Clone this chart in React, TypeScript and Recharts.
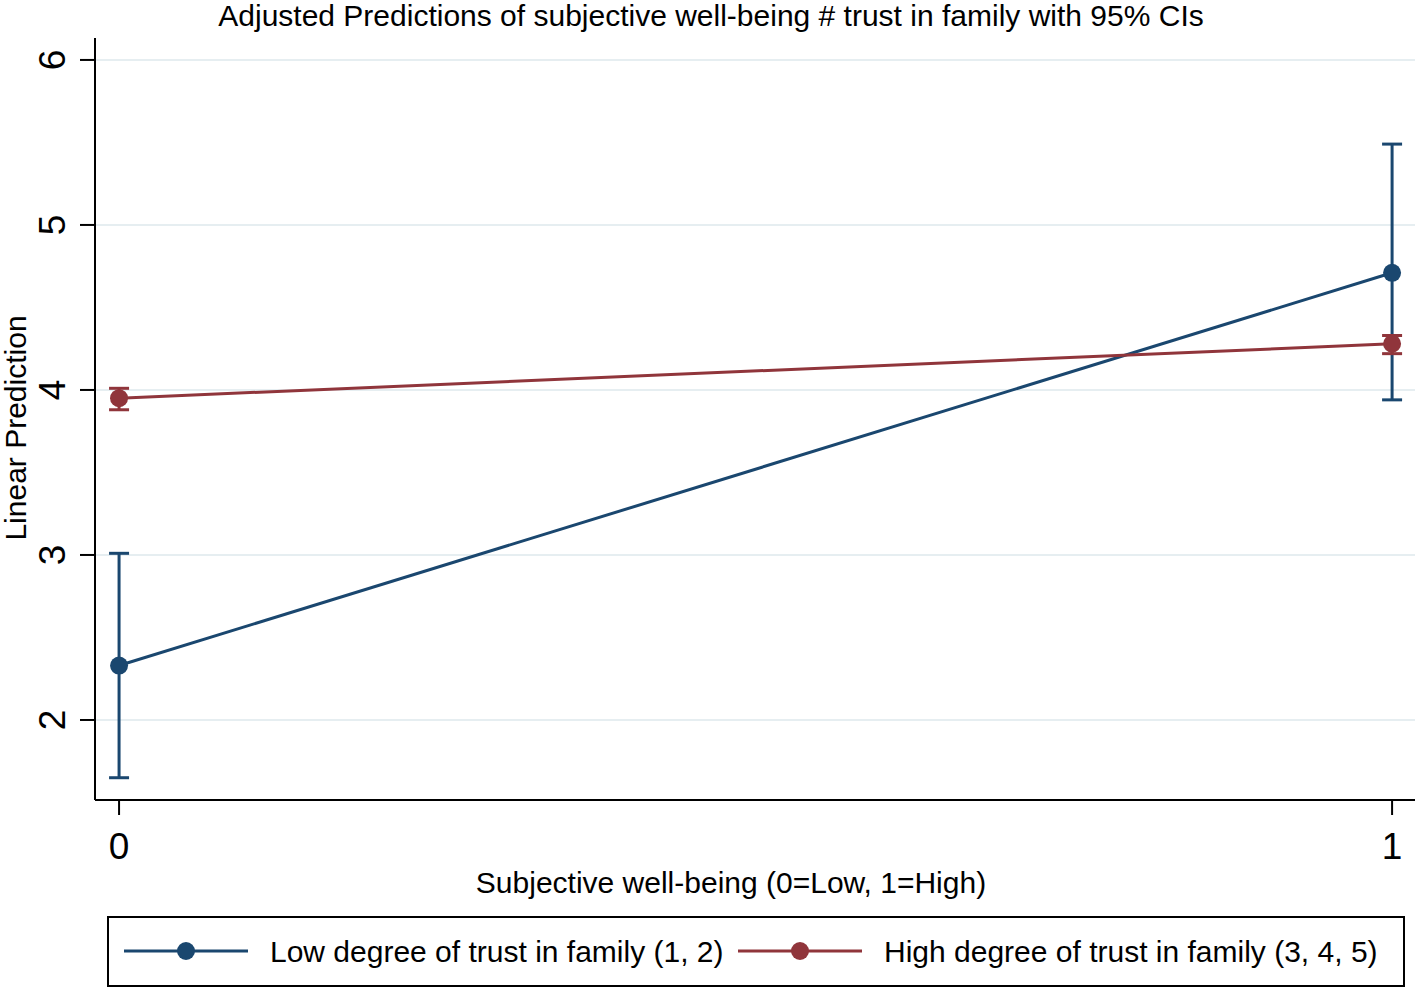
import React from 'react';
import {
    ComposedChart,
    Line,
    XAxis,
    YAxis,
    CartesianGrid,
    ErrorBar,
    Label,
} from 'recharts';

// values
const wellBeing = [0, 1];
const lowTrustPred = [2.33, 4.71];
const lowTrustLower = [1.65, 3.94];
const lowTrustUpper = [3.01, 5.49];
const highTrustPred = [3.95, 4.28];
const highTrustLower = [3.88, 4.22];
const highTrustUpper = [4.01, 4.33];
const yTicks = [2, 3, 4, 5, 6];
const xTicks = [0, 1];

const NAVY = '#1a476f';
const MAROON = '#90353b';
const FONT = '"Liberation Sans", Arial, sans-serif';

const data = wellBeing.map((x, i) => ({
    x,
    low: lowTrustPred[i],
    lowErr: [lowTrustPred[i] - lowTrustLower[i], lowTrustUpper[i] - lowTrustPred[i]],
    high: highTrustPred[i],
    highErr: [highTrustPred[i] - highTrustLower[i], highTrustUpper[i] - highTrustPred[i]],
}));

const YTick = (props: any) => {
    const { x, y, payload } = props;
    const bx = x - 13;
    return (
        <text
            x={bx}
            y={y}
            transform={`rotate(-90, ${bx}, ${y})`}
            textAnchor="middle"
            fontSize={37}
            fontFamily={FONT}
            fill="#000"
        >
            {payload.value}
        </text>
    );
};

const XTick = (props: any) => {
    const { x, y, payload } = props;
    return (
        <text x={x} y={y + 42} textAnchor="middle" fontSize={37} fontFamily={FONT} fill="#000">
            {payload.value}
        </text>
    );
};

const LegendItem = ({ color, label, x }: { color: string; label: string; x: number }) => (
    <g>
        <line x1={x} y1={35} x2={x + 124} y2={35} stroke={color} strokeWidth={3} />
        <circle cx={x + 62} cy={35} r={9} fill={color} />
        <text x={x + 146} y={46} fontSize={30} fontFamily={FONT} fill="#000">
            {label}
        </text>
    </g>
);

const App = () => {
    return (
        <div style={{ position: 'absolute', left: 0, top: 0, width: 1418, height: 988, background: '#fff' }}>
            <ComposedChart
                width={1418}
                height={988}
                data={data}
                margin={{ top: 38, right: 3, left: 0, bottom: 0 }}
            >
                <CartesianGrid vertical={false} stroke="#e6eef1" strokeWidth={2} syncWithTicks />
                <XAxis
                    dataKey="x"
                    type="number"
                    domain={[-0.0189, 1.018]}
                    ticks={xTicks}
                    allowDataOverflow
                    height={188}
                    tickSize={15}
                    axisLine={{ stroke: '#000', strokeWidth: 2 }}
                    tickLine={{ stroke: '#000', strokeWidth: 2 }}
                    tick={<XTick />}
                >
                    <Label
                        value="Subjective well-being (0=Low, 1=High)"
                        position="insideTop"
                        offset={72}
                        dx={-24}
                        fontSize={30}
                        fontFamily={FONT}
                        fill="#000"
                    />
                </XAxis>
                <YAxis
                    type="number"
                    domain={[1.515, 6.133]}
                    ticks={yTicks}
                    allowDataOverflow
                    width={95}
                    tickSize={15}
                    axisLine={{ stroke: '#000', strokeWidth: 2 }}
                    tickLine={{ stroke: '#000', strokeWidth: 2 }}
                    tick={<YTick />}
                />
                <Line
                    dataKey="low"
                    stroke={NAVY}
                    strokeWidth={3}
                    dot={{ r: 9, fill: NAVY, stroke: 'none' }}
                    activeDot={false}
                    isAnimationActive={false}
                >
                    <ErrorBar dataKey="lowErr" direction="y" width={10} stroke={NAVY} strokeWidth={3} />
                </Line>
                <Line
                    dataKey="high"
                    stroke={MAROON}
                    strokeWidth={3}
                    dot={{ r: 9, fill: MAROON, stroke: 'none' }}
                    activeDot={false}
                    isAnimationActive={false}
                >
                    <ErrorBar dataKey="highErr" direction="y" width={10} stroke={MAROON} strokeWidth={3} />
                </Line>
            </ComposedChart>
            <svg
                style={{ position: 'absolute', left: 0, top: 0, pointerEvents: 'none' }}
                width={1418}
                height={988}
            >
                <text x={711} y={26} textAnchor="middle" fontSize={30} fontFamily={FONT} fill="#000">
                    Adjusted Predictions of subjective well-being # trust in family with 95% CIs
                </text>
                <text
                    x={26}
                    y={428}
                    transform="rotate(-90, 26, 428)"
                    textAnchor="middle"
                    fontSize={30}
                    fontFamily={FONT}
                    fill="#000"
                >
                    Linear Prediction
                </text>
            </svg>
            <svg
                style={{ position: 'absolute', left: 107, top: 916 }}
                width={1298}
                height={71}
            >
                <rect x={1} y={1} width={1296} height={69} fill="#fff" stroke="#000" strokeWidth={2} />
                <LegendItem color={NAVY} label="Low degree of trust in family (1, 2)" x={17} />
                <LegendItem color={MAROON} label="High degree of trust in family (3, 4, 5)" x={631} />
            </svg>
        </div>
    );
};

export default App;
